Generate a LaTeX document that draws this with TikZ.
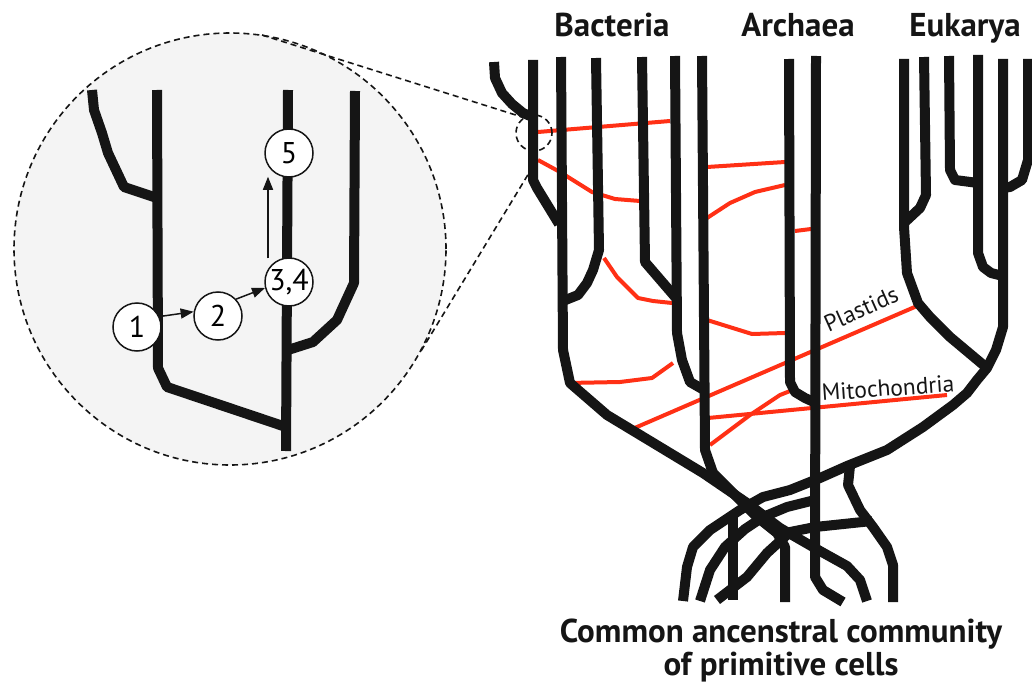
\documentclass[tikz,border=0pt]{standalone}
\usepackage{fontspec}
\setmainfont{PT Sans}
\usepackage{xcolor}
\definecolor{cBranch}{HTML}{151515}
\definecolor{cTransfer}{HTML}{FF3015}
\definecolor{cInset}{HTML}{F4F4F4}
\usepackage{tikz}
\usetikzlibrary{arrows.meta}
\tikzset{
  line-branch/.style={draw=cBranch,line width=10pt,line join=round},
  line-transfer/.style={draw=cTransfer,line width=4pt,line join=round},
  % zoom circle and its two guide lines
  line-zoom/.style={draw=cBranch,line width=1.6pt,dash pattern=on 6pt off 4pt},
  node-step/.style={draw=cBranch,line width=1.5pt,circle,fill=white,
    minimum size=48pt,inner sep=0pt,font=\fontsize{30}{30}\selectfont},
  arrow/.style={-{Triangle[length=13pt,width=10pt]},line width=1.5pt,draw=cBranch},
  label-domain/.style={font=\fontsize{33}{33}\selectfont\bfseries,text=cBranch,inner sep=0pt},
  label-organelle/.style={font=\fontsize{23.5}{23.5}\selectfont,text=cBranch,inner sep=0pt},
}
\begin{document}
\begin{tikzpicture}[x=1pt,y=-1pt]
  \useasboundingbox (0,0) rectangle (1032,687);

  % inset
  \draw[line-zoom,fill=cInset] (230,249) circle[radius=216pt];
  \draw[line-zoom] (262,35) -- (522,117);
  \draw[line-zoom] (421,351) -- (532,168);
  \draw[line-branch] (92,90) -- (94,110) -- (102,133) -- (108,153) -- (124,187) -- (157,198);
  \draw[line-branch] (157,90) -- (158,368) -- (167,387) -- (286,427);
  \draw[line-branch] (288,90) -- (286,451);
  \draw[line-branch] (355,91) -- (354,283) -- (337,320) -- (313,342) -- (288,350);
  \node[node-step] (n1)  at (137,327) {1};
  \node[node-step] (n2)  at (218,316) {2};
  \node[node-step] (n34) at (289,282) {3,4};
  \node[node-step] (n5)  at (289,153) {5};
  \draw[arrow] (n1.25) -- (n2.170);
  \draw[arrow] (n2.43) -- (n34.194);
  \draw[arrow] ([xshift=-21pt,yshift=-1pt]n34.north) -- ([xshift=-21pt,yshift=1pt]n5.south);

  % transfers
  \draw[line-transfer] (538,132) -- (670,121);
  \draw[line-transfer] (538,160) -- (560,172) -- (592,192) -- (615,199) -- (640,201);
  \draw[line-transfer] (707,167) -- (785,162);
  \draw[line-transfer] (707,218) -- (730,203) -- (755,192) -- (785,185);
  \draw[line-transfer] (795,231) -- (811,229);
  \draw[line-transfer] (604,258) -- (617,277) -- (638,298) -- (653,301) -- (672,303);
  \draw[line-transfer] (707,320) -- (752,334) -- (785,333);
  \draw[line-transfer] (568,383) -- (620,382) -- (652,378) -- (673,363);
  \draw[line-transfer] (630,430) -- (917,306);
  \draw[line-transfer] (708,418) -- (947,395);
  \draw[line-transfer] (710,445) -- (750,415) -- (780,395) -- (790,391);
  \node[label-organelle,rotate=24] (plastids) at (861,309) {Plastids};
  \node[label-organelle,rotate=4] (mito) at (888,388) {Mitochondria};

  % Bacteria
  \draw[line-branch] (494,62) -- (495,78) -- (502,93) -- (512,104) -- (523,113) -- (535,118);
  \draw[line-branch] (533,60) -- (533,180) -- (537,188) -- (559,224);
  \draw[line-branch] (561,57) -- (563,350) -- (570,383) -- (607,415) -- (660,447) -- (703,473)
    -- (747,503) -- (780,528) -- (820,551) -- (847,566) -- (860,580) -- (867,601);
  \draw[line-branch] (596,58) -- (599,250) -- (593,270) -- (587,283) -- (578,295) -- (563,301);
  \draw[line-branch] (642,57) -- (645,262) -- (676,298);
  \draw[line-branch] (675,56) -- (677,333) -- (682,360) -- (690,382) -- (704,390);
  \draw[line-branch] (702,56) -- (705,450) -- (713,473) -- (737,497) -- (757,517) -- (777,533)
    -- (785,547) -- (785,602);
  % Archaea
  \draw[line-branch] (789,59) -- (790,382) -- (795,392) -- (805,398) -- (816,403);
  \draw[line-branch] (816,56) -- (815,577) -- (823,590) -- (843,602);
  % Eukarya
  \draw[line-branch] (904,59) -- (904,227) -- (907,273) -- (918,303) -- (930,317) -- (950,337) -- (987,368);
  \draw[line-branch] (924,57) -- (926,195) -- (920,208) -- (905,222);
  \draw[line-branch] (949,56) -- (950,170) -- (955,180) -- (978,183);
  \draw[line-branch] (978,55) -- (978,253) -- (983,267) -- (991,273) -- (1003,276);
  \draw[line-branch] (1003,59) -- (1003,327) -- (996,350) -- (987,368) -- (977,380) -- (967,393)
    -- (953,405) -- (923,427) -- (887,450) -- (847,466) -- (820,478) -- (790,490) -- (763,497)
    -- (740,510) -- (710,530) -- (693,547) -- (687,567) -- (683,601);
  \draw[line-branch] (1028,59) -- (1028,160) -- (1022,180) -- (1010,187) -- (1003,188);
  % common root
  \draw[line-branch] (850,466) -- (848,485) -- (860,510) -- (873,527) -- (887,547) -- (893,565) -- (893,602);
  \draw[line-branch] (872,521) -- (815,527) -- (790,532) -- (767,553) -- (747,577) -- (717,600);
  \draw[line-branch] (815,500) -- (787,507) -- (763,517) -- (745,529) -- (725,547) -- (710,570) -- (700,601);
  \draw[line-branch] (733,514) -- (733,600);

  \draw[line-zoom] (534,133) circle[radius=18pt];

  \node[label-domain,anchor=base] (bacteria) at (612,37) {Bacteria};
  \node[label-domain,anchor=base] (archaea)  at (798,37) {Archaea};
  \node[label-domain,anchor=base] (eukarya)  at (965,37) {Eukarya};
  \node[label-domain,align=center] (root) at (781,651)
    {Common ancenstral community\\of primitive cells};
\end{tikzpicture}
\end{document}
